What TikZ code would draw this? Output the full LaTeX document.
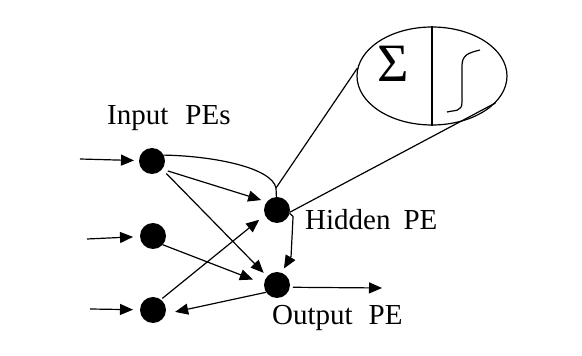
\documentclass[tikz,border=0pt]{standalone}
\usepackage{fontspec}
\setmainfont{Liberation Serif}
\usetikzlibrary{arrows.meta,shapes.geometric}

\tikzset{
  pe/.style={circle, fill=black, minimum size=26pt, inner sep=0pt, outer sep=0pt},
  link/.style={line width=1.2pt, line join=round},
  arr/.style={link, -{Triangle[length=13pt,width=11pt]}},
  lbl/.style={font=\fontsize{29}{29}\selectfont, inner sep=0pt, anchor=base west},
}

\begin{document}
\begin{tikzpicture}[x=1pt, y=1pt]
  \useasboundingbox[fill=white] (0,0) rectangle (582,356);

  % processing elements
  \node[pe] (I1) at (152,195) {};
  \node[pe] (I2) at (153,120) {};
  \node[pe] (I3) at (153,46) {};
  \node[pe] (H)  at (277,146) {};
  \node[pe] (O)  at (277,71) {};

  % free ends and the joint above the hidden PE
  \coordinate (s1) at (80,197);
  \coordinate (s2) at (87,117);
  \coordinate (s3) at (90,47);
  \coordinate (J) at (276,168);
  \coordinate (out) at (382,68);

  % magnified view of the hidden PE: sum and sigmoid
  \node[draw, ellipse, line width=1.2pt, minimum width=150pt, minimum height=98pt, inner sep=0pt] (E) at (432,280) {};
  \draw[link] (E.north) -- (E.south);
  \node[font=\fontsize{54}{54}\selectfont, inner sep=0pt] (sig) at (393,292) {Σ};
  \draw[link] (447,244) .. controls (455,246) and (462,244) .. (462,254)
              -- (462,290) .. controls (462,301) and (468,303) .. (480,306);

  % labels
  \node[lbl] (lin)  at (107,231) {Input\hspace{17pt}PEs};
  \node[lbl] (lhid) at (305,126) {Hidden\hspace{13pt}PE};
  \node[lbl] (lout) at (272,31)  {Output\hspace{16pt}PE};

  % external inputs
  \draw[arr, shorten >=5pt] (s1) -- (I1);
  \draw[arr, shorten >=7pt] (s2) -- (I2);
  \draw[arr, shorten >=7pt] (s3) -- (I3);

  % weighted connections
  \draw[arr, shorten <=6pt, shorten >=6pt] (I1.-39) -- (H.141);
  \draw[arr, shorten <=6pt, shorten >=5pt] (I1.-39) -- (O.139);
  \draw[arr, shorten >=12pt] (I2.-42) -- (O.175);
  \draw[arr, shorten <=2pt, shorten >=7.5pt] (I3.53) -- (H.203);
  \draw[arr, shorten >=10pt] (O.214) -- (I3.-18);
  \draw[arr, shorten >=5pt] (H.-15) -- ++(3.5,-3) -- ++(-2,-40) -- (O.70);
  \draw[arr, shorten <=3pt] (O.-10) -- (out);
  \draw[link] (I1.27) .. controls (215,200) and (272,188) .. (J);
  \draw[link] (J) -- (H);

  % lines opening the magnified view
  \draw[link] (J) -- (E.174);
  \draw[link] (H.-10) -- (E.-23);
\end{tikzpicture}
\end{document}
